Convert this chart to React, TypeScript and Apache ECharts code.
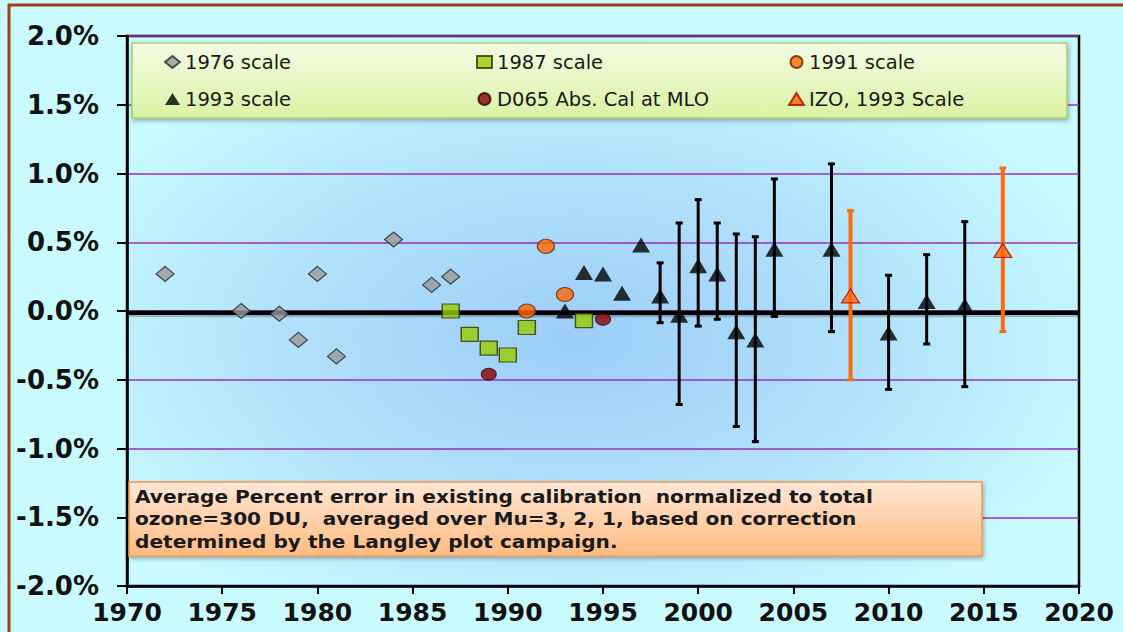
import React, { useEffect, useRef } from "react";
import * as echarts from "echarts";

// ---- data ----
const years1976 = [1972, 1976, 1978, 1979, 1980, 1981, 1984, 1986, 1987];
const vals1976 = [0.27, 0.0, -0.02, -0.21, 0.27, -0.33, 0.52, 0.19, 0.25];

const years1987 = [1987, 1988, 1989, 1990, 1991, 1994];
const vals1987 = [0.0, -0.17, -0.27, -0.32, -0.12, -0.07];

const years1991 = [1991, 1992, 1993];
const vals1991 = [0.0, 0.47, 0.12];

const yearsD065 = [1989, 1995];
const valsD065 = [-0.46, -0.06];

const years1993 = [1993, 1994, 1995, 1996, 1997, 1998, 1999, 2000, 2001, 2002, 2003, 2004, 2007, 2010, 2012, 2014];
const vals1993 = [0.0, 0.28, 0.27, 0.13, 0.48, 0.11, -0.03, 0.33, 0.27, -0.15, -0.21, 0.45, 0.45, -0.16, 0.07, 0.04];

const err1993Years = [1998, 1999, 2000, 2001, 2002, 2003, 2004, 2007, 2010, 2012, 2014];
const err1993High = [0.35, 0.64, 0.81, 0.64, 0.56, 0.54, 0.96, 1.07, 0.26, 0.41, 0.65];
const err1993Low = [-0.085, -0.68, -0.11, -0.06, -0.84, -0.95, -0.04, -0.15, -0.57, -0.24, -0.55];

const yearsIZO = [2008, 2016];
const valsIZO = [0.11, 0.44];
const errIZOHigh = [0.73, 1.04];
const errIZOLow = [-0.5, -0.15];

const zeroLineYears = [1970, 2020];
const zeroLineVals = [-0.013, -0.013];
const zeroShadowVals = [-0.028, -0.028];

const xTicks = { min: 1970, max: 2020, interval: 5 };
const yTicks = { min: -2, max: 2, interval: 0.5 };

const noteText =
  "Average Percent error in existing calibration  normalized to total\n" +
  "ozone=300 DU,  averaged over Mu=3, 2, 1, based on correction\n" +
  "determined by the Langley plot campaign.";

const pairs = (xs: number[], ys: number[]) => xs.map((x, i) => [x, ys[i]]);
const triples = (xs: number[], lo: number[], hi: number[]) => xs.map((x, i) => [x, lo[i], hi[i]]);

const errorBarRender = (color: string, width: number, capHalf: number) => (params: any, api: any) => {
  const x = api.value(0);
  const lo = api.value(1);
  const hi = api.value(2);
  const top = api.coord([x, hi]);
  const bot = api.coord([x, lo]);
  const st = { stroke: color, lineWidth: width };
  return {
    type: "group",
    children: [
      { type: "line", shape: { x1: top[0], y1: top[1], x2: bot[0], y2: bot[1] }, style: st },
      { type: "line", shape: { x1: top[0] - capHalf, y1: top[1], x2: top[0] + capHalf, y2: top[1] }, style: { stroke: color, lineWidth: 3 } },
      { type: "line", shape: { x1: bot[0] - capHalf, y1: bot[1], x2: bot[0] + capHalf, y2: bot[1] }, style: { stroke: color, lineWidth: 3 } },
    ],
  };
};

const FONT = "'DejaVu Sans', Verdana, sans-serif";

export default function App() {
  const ref = useRef<HTMLDivElement>(null);
  useEffect(() => {
    if (!ref.current) return;
    const chart = echarts.init(ref.current, undefined, { renderer: "svg" });
    const legendCommon = {
      orient: "vertical",
      top: 52,
      itemWidth: 15,
      itemHeight: 12,
      itemGap: 17,
      padding: 0,
      z: 20,
      textStyle: { fontFamily: FONT, fontSize: 19.5, color: "#1a1a1a", lineHeight: 20 },
    };
    chart.setOption({
      animation: false,
      backgroundColor: "#c9fbfe",
      grid: {
        left: 127,
        right: 44,
        top: 36,
        bottom: 46,
        show: true,
        borderColor: "#000",
        borderWidth: 2.5,
        backgroundColor: {
          type: "radial",
          x: 0.47,
          y: 0.55,
          r: 0.58,
          colorStops: [
            { offset: 0, color: "#9ccdf7" },
            { offset: 0.55, color: "#b2e2fb" },
            { offset: 1, color: "#c8faff" },
          ],
        },
      },
      xAxis: {
        type: "value",
        min: xTicks.min,
        max: xTicks.max,
        interval: xTicks.interval,
        axisLine: { show: true, onZero: false, lineStyle: { color: "#000", width: 2.5 } },
        axisTick: { show: true, inside: false, length: 8, lineStyle: { color: "#000", width: 2 } },
        splitLine: { show: false },
        axisLabel: {
          fontFamily: FONT,
          fontWeight: "bold",
          fontSize: 25,
          color: "#111",
          margin: 14,
          formatter: (v: number) => String(v),
        },
      },
      yAxis: {
        type: "value",
        min: yTicks.min,
        max: yTicks.max,
        interval: yTicks.interval,
        axisLine: { show: true, lineStyle: { color: "#000", width: 2.5 } },
        axisTick: { show: true, inside: false, length: 10, lineStyle: { color: "#000", width: 2 } },
        splitLine: { show: true, lineStyle: { color: "#9a30b8", width: 1.5 } },
        axisLabel: {
          fontFamily: FONT,
          fontWeight: "bold",
          fontSize: 26,
          color: "#111",
          margin: 28,
          formatter: (v: number) => v.toFixed(1) + "%",
        },
      },
      legend: [
        { ...legendCommon, left: 164, data: ["1976 scale", "1993 scale"] },
        { ...legendCommon, left: 476, data: ["1987 scale", "D065 Abs. Cal at MLO"] },
        { ...legendCommon, left: 788, data: ["1991 scale", "IZO, 1993 Scale"] },
      ],
      graphic: [
        { type: "line", z: 30, shape: { x1: 8, y1: 5, x2: 1123, y2: 5 }, style: { stroke: "#a43c14", lineWidth: 3 } },
        { type: "line", z: 30, shape: { x1: 9, y1: 4, x2: 9, y2: 632 }, style: { stroke: "#a43c14", lineWidth: 3 } },
        {
          type: "rect",
          z: 10,
          shape: { x: 132, y: 43, width: 935, height: 75 },
          style: {
            fill: {
              type: "linear", x: 0, y: 0, x2: 0, y2: 1,
              colorStops: [
                { offset: 0, color: "#f4fbe4" },
                { offset: 1, color: "#daf3a4" },
              ],
            },
            stroke: "#a9cf72",
            lineWidth: 1.5,
            shadowColor: "rgba(0,0,0,0.3)",
            shadowBlur: 4,
            shadowOffsetX: 1,
            shadowOffsetY: 2,
          },
        },
        {
          type: "rect",
          z: 10,
          shape: { x: 129, y: 482, width: 853, height: 74 },
          style: {
            fill: {
              type: "linear", x: 0, y: 0, x2: 0, y2: 1,
              colorStops: [
                { offset: 0, color: "#ffe7d6" },
                { offset: 1, color: "#ffbb80" },
              ],
            },
            stroke: "#f29a55",
            lineWidth: 1.5,
            shadowColor: "rgba(0,0,0,0.3)",
            shadowBlur: 4,
            shadowOffsetX: 1,
            shadowOffsetY: 2,
          },
        },
        {
          type: "text",
          z: 11,
          x: 135,
          y: 486,
          scaleX: 1.15,
          style: {
            text: noteText,
            fontFamily: FONT,
            fontWeight: "bold",
            fontSize: 17.5,
            lineHeight: 22.3,
            fill: "#1a1a1a",
            verticalAlign: "top",
          },
        },
      ],
      series: [
        {
          name: "zero shadow",
          type: "line",
          data: pairs(zeroLineYears, zeroShadowVals),
          symbol: "none",
          silent: true,
          z: 1,
          lineStyle: { color: "rgba(0,0,0,0.22)", width: 5 },
        },
        {
          name: "zero",
          type: "line",
          data: pairs(zeroLineYears, zeroLineVals),
          symbol: "none",
          silent: true,
          z: 1,
          lineStyle: { color: "#000", width: 4.5 },
        },
        {
          name: "1993 error",
          type: "custom",
          renderItem: errorBarRender("#000", 3, 3.5),
          encode: { x: 0, y: [1, 2] },
          data: triples(err1993Years, err1993Low, err1993High),
          z: 2,
        },
        {
          name: "IZO error",
          type: "custom",
          renderItem: errorBarRender("#ff6a0a", 4, 3.5),
          encode: { x: 0, y: [1, 2] },
          data: triples(yearsIZO, errIZOLow, errIZOHigh),
          z: 2,
        },
        {
          name: "1976 scale",
          type: "scatter",
          symbol: "diamond",
          symbolSize: [18, 15],
          itemStyle: { color: "#9a9a9a", borderColor: "#2a2a2a", borderWidth: 1.2 },
          data: pairs(years1976, vals1976),
          z: 3,
        },
        {
          name: "1987 scale",
          type: "scatter",
          symbol: "rect",
          symbolSize: [17, 14],
          itemStyle: { color: "#99cc00", borderColor: "#2a3300", borderWidth: 1.3 },
          data: pairs(years1987, vals1987),
          z: 3,
        },
        {
          name: "1991 scale",
          type: "scatter",
          symbol: "circle",
          symbolSize: [17, 14],
          itemStyle: { color: "#ff6600", borderColor: "#6a2400", borderWidth: 1.2 },
          data: pairs(years1991, vals1991),
          z: 3,
        },
        {
          name: "D065 Abs. Cal at MLO",
          type: "scatter",
          symbol: "circle",
          symbolSize: [15, 12],
          itemStyle: { color: "#880000", borderColor: "#3a0000", borderWidth: 1 },
          data: pairs(yearsD065, valsD065),
          z: 3,
        },
        {
          name: "1993 scale",
          type: "scatter",
          symbol: "triangle",
          symbolSize: [18, 15],
          itemStyle: { color: "#000" },
          data: pairs(years1993, vals1993),
          z: 4,
        },
        {
          name: "IZO, 1993 Scale",
          type: "scatter",
          symbol: "triangle",
          symbolSize: [18, 14],
          itemStyle: { color: "#ff6600", borderColor: "#b00000", borderWidth: 1.2 },
          data: pairs(yearsIZO, valsIZO),
          z: 4,
        },
      ],
    });
    return () => chart.dispose();
  }, []);
  return (
    <div
      ref={ref}
      style={{ position: "absolute", left: 0, top: 0, width: 1123, height: 632 }}
    />
  );
}
